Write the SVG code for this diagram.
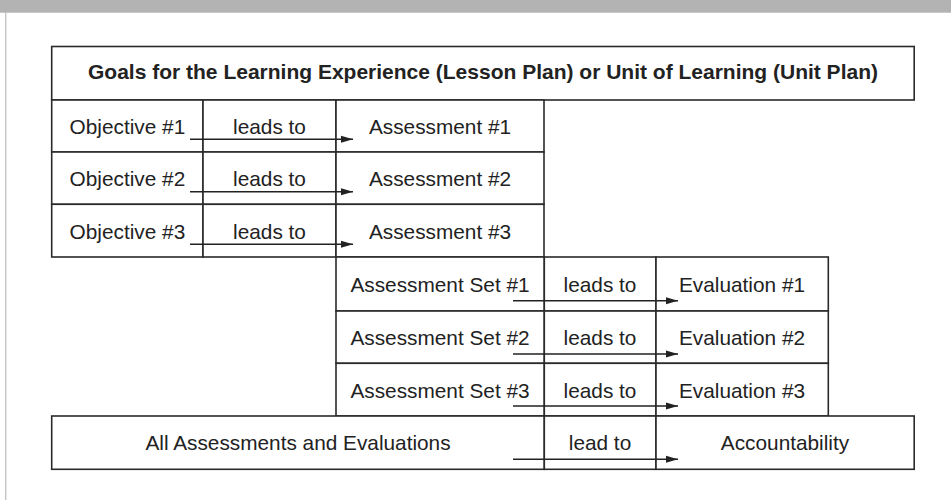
<svg xmlns="http://www.w3.org/2000/svg" width="951" height="500" viewBox="0 0 951 500">
<style>
.cell{fill:#fff;stroke:#2a2a2a;stroke-width:1.6}
.t{font-family:"Liberation Sans",Arial,sans-serif;font-size:20.8px;fill:#222;text-anchor:middle}
.tb{font-family:"Liberation Sans",Arial,sans-serif;font-size:21px;font-weight:bold;fill:#222;text-anchor:middle}
.arr{stroke:#222;stroke-width:1.4;fill:none;marker-end:url(#ah)}
</style>
<defs>
<marker id="ah" markerWidth="12" markerHeight="8" refX="12" refY="4" orient="auto" markerUnits="userSpaceOnUse">
<path d="M0,0.5 L12,4 L0,7.5 Z" fill="#222"/>
</marker>
</defs>
<rect x="0" y="0" width="951" height="500" fill="#fff"/>
<rect x="0" y="0" width="951" height="12" fill="#b3b3b3"/>
<line x1="0" y1="12.5" x2="951" y2="12.5" stroke="#c9c9c9" stroke-width="1"/>
<line x1="5.7" y1="12" x2="5.7" y2="500" stroke="#c8c8c8" stroke-width="1.5"/>

<g id="goals"><rect class="cell" x="51.7" y="46.5" width="862.5" height="53.5"/><text class="tb" x="483" y="78.5">Goals for the Learning Experience (Lesson Plan) or Unit of Learning (Unit Plan)</text></g>

<g id="objective1"><rect class="cell" x="51.7" y="100" width="151.3" height="52"/><text class="t" x="127.4" y="133.5">Objective #1</text></g>
<g id="leads1"><rect class="cell" x="203" y="100" width="133" height="52"/><text class="t" x="269.5" y="133.5">leads to</text></g>
<g id="assessment1"><rect class="cell" x="336" y="100" width="208" height="52"/><text class="t" x="440" y="133.5">Assessment #1</text></g>

<g id="objective2"><rect class="cell" x="51.7" y="152" width="151.3" height="52.3"/><text class="t" x="127.4" y="186">Objective #2</text></g>
<g id="leads2"><rect class="cell" x="203" y="152" width="133" height="52.3"/><text class="t" x="269.5" y="186">leads to</text></g>
<g id="assessment2"><rect class="cell" x="336" y="152" width="208" height="52.3"/><text class="t" x="440" y="186">Assessment #2</text></g>

<g id="objective3"><rect class="cell" x="51.7" y="204.3" width="151.3" height="52.7"/><text class="t" x="127.4" y="238.5">Objective #3</text></g>
<g id="leads3"><rect class="cell" x="203" y="204.3" width="133" height="52.7"/><text class="t" x="269.5" y="238.5">leads to</text></g>
<g id="assessment3"><rect class="cell" x="336" y="204.3" width="208" height="52.7"/><text class="t" x="440" y="238.5">Assessment #3</text></g>

<g id="set1"><rect class="cell" x="336" y="257" width="208.3" height="54"/><text class="t" x="440" y="291.7">Assessment Set #1</text></g>
<g id="leads4"><rect class="cell" x="544.3" y="257" width="111.7" height="54"/><text class="t" x="600" y="291.7">leads to</text></g>
<g id="evaluation1"><rect class="cell" x="656" y="257" width="172.3" height="54"/><text class="t" x="742" y="291.7">Evaluation #1</text></g>

<g id="set2"><rect class="cell" x="336" y="311" width="208.3" height="52.3"/><text class="t" x="440" y="345">Assessment Set #2</text></g>
<g id="leads5"><rect class="cell" x="544.3" y="311" width="111.7" height="52.3"/><text class="t" x="600" y="345">leads to</text></g>
<g id="evaluation2"><rect class="cell" x="656" y="311" width="172.3" height="52.3"/><text class="t" x="742" y="345">Evaluation #2</text></g>

<g id="set3"><rect class="cell" x="336" y="363.3" width="208.3" height="52.7"/><text class="t" x="440" y="397.5">Assessment Set #3</text></g>
<g id="leads6"><rect class="cell" x="544.3" y="363.3" width="111.7" height="52.7"/><text class="t" x="600" y="397.5">leads to</text></g>
<g id="evaluation3"><rect class="cell" x="656" y="363.3" width="172.3" height="52.7"/><text class="t" x="742" y="397.5">Evaluation #3</text></g>

<g id="all"><rect class="cell" x="51.7" y="416" width="492.6" height="53.3"/><text class="t" x="298" y="450">All Assessments and Evaluations</text></g>
<g id="leadto"><rect class="cell" x="544.3" y="416" width="111.7" height="53.3"/><text class="t" x="600" y="450">lead to</text></g>
<g id="accountability"><rect class="cell" x="656" y="416" width="258.2" height="53.3"/><text class="t" x="785" y="450">Accountability</text></g>

<g id="connectors">
<line class="arr" x1="190" y1="139.3" x2="353" y2="139.3"/>
<line class="arr" x1="190" y1="191.7" x2="353" y2="191.7"/>
<line class="arr" x1="190" y1="244.3" x2="353" y2="244.3"/>
<line class="arr" x1="513" y1="300.7" x2="678" y2="300.7"/>
<line class="arr" x1="513" y1="354" x2="678" y2="354"/>
<line class="arr" x1="513" y1="406" x2="678" y2="406"/>
<line class="arr" x1="513" y1="459.3" x2="678" y2="459.3"/>
</g>
</svg>
